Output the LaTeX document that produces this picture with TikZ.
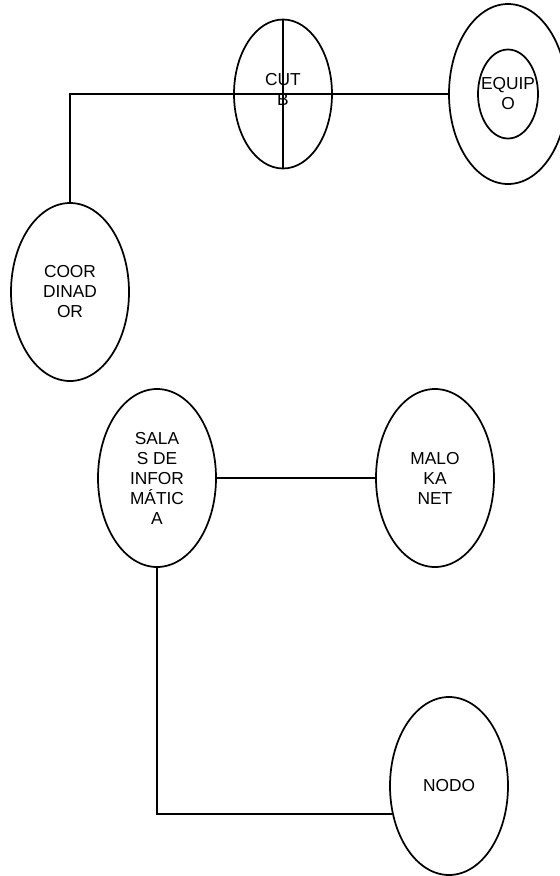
\documentclass[tikz,border=0pt]{standalone}
\usepackage{fontspec}
\setmainfont{Liberation Sans}
\usepackage{tikz}
\usetikzlibrary{shapes.geometric}

\begin{document}
\begin{tikzpicture}[x=0.75pt,y=-0.75pt]
  \tikzstyle{every node}=[font=\fontsize{13}{15}\selectfont, align=center]
  \tikzstyle{elipse}=[ellipse, draw, line width=1.3pt, inner sep=0pt, minimum width=88.5pt, minimum height=133.5pt]
  \tikzstyle{linea}=[line width=1.3pt]
  \useasboundingbox (0,0) rectangle (560,876);
  \node[elipse, minimum width=73.5pt, minimum height=111.75pt] (cutb) at (283,94) {};
  \draw[linea] (cutb.north) -- (cutb.south);
  \draw[linea] (cutb.west) -- (cutb.east);
  \node at (283,89) {CUT\\B};
  \node[elipse, minimum height=135pt] (equipo) at (508,94) {};
  \node[elipse, minimum width=45pt, minimum height=66.75pt] (equipoin) at (508,94) {};
  \node at (508,94) {EQUIP\\O};
  \node[elipse] (coord) at (70,292) {COOR\\DINAD\\OR};
  \node[elipse] (salas) at (157,478) {SALA\\S DE\\INFOR\\MÁTIC\\A};
  \node[elipse] (maloka) at (435,478) {MALO\\KA\\NET};
  \node[elipse] (nodo) at (449,786) {NODO};
  \draw[linea] (cutb.west) -| (coord.north);
  \draw[linea] (cutb.east) -- (equipo.west);
  \draw[linea] (salas.east) -- (maloka.west);
  \draw[linea] (salas.south) |- (nodo.206);
\end{tikzpicture}
\end{document}
